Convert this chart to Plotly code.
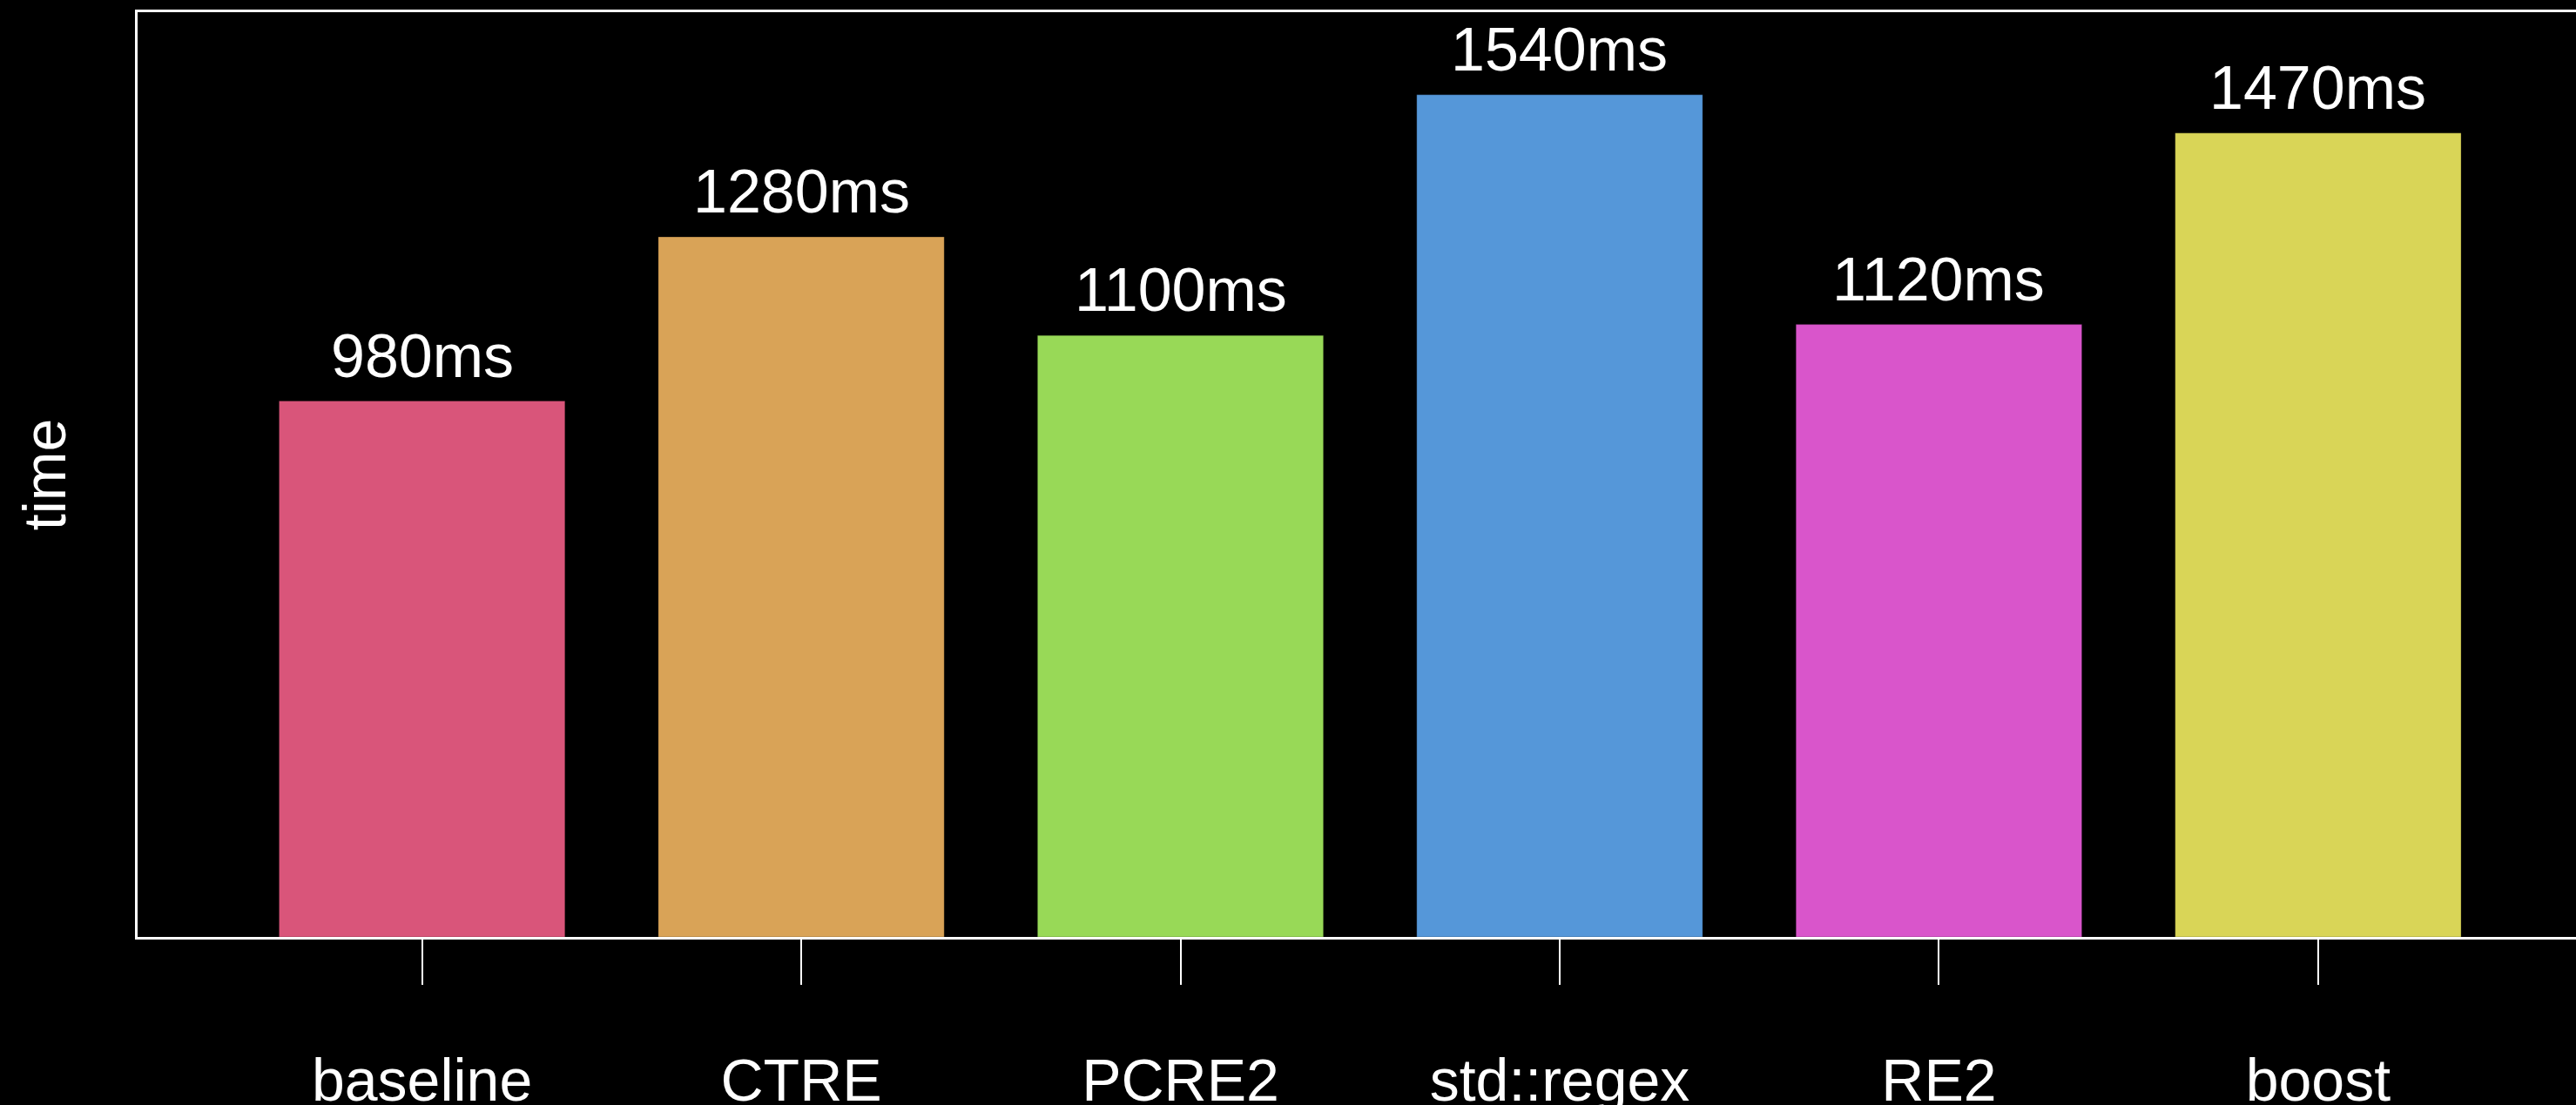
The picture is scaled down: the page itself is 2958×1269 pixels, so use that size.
import plotly.graph_objects as go

# Regex engine benchmark: total run time per engine (milliseconds)
engines = ["baseline", "CTRE", "PCRE2", "std::regex", "RE2", "boost"]
times_ms = [980, 1280, 1100, 1540, 1120, 1470]
bar_colors = ["#D9557A", "#D9A357", "#98D957", "#5597D9", "#D955CB", "#D9D557"]

FONT = "Liberation Sans, Arial, sans-serif"

fig = go.Figure(
    go.Bar(
        x=engines,
        y=times_ms,
        marker=dict(color=bar_colors, line=dict(width=1, color="rgba(0,0,0,0.25)")),
        hoverinfo="skip",
    )
)

# value labels above each bar
for name, t in zip(engines, times_ms):
    fig.add_annotation(
        x=name, y=t, text=f"{t}ms", showarrow=False,
        yanchor="bottom", yshift=11,
        font=dict(family=FONT, size=70, color="white"),
    )

fig.update_layout(
    width=2958, height=1269,
    margin=dict(l=158, r=0, t=14, b=193),
    paper_bgcolor="black", plot_bgcolor="black",
    bargap=0.246,
    showlegend=False,
    font=dict(family=FONT, size=68, color="white"),
)

fig.update_xaxes(
    range=[-0.75, 5.68], automargin=False,
    showline=True, linecolor="white", linewidth=3, mirror=True,
    ticks="outside", ticklen=52, tickwidth=2, tickcolor="white",
    ticklabelstandoff=51,
    tickfont=dict(family=FONT, size=68, color="white"),
    showgrid=False, zeroline=False,
)
fig.update_yaxes(
    range=[0, 1691], automargin=True,
    showline=True, linecolor="white", linewidth=3, mirror=False,
    showticklabels=False, ticks="", showgrid=False, zeroline=False,
    title=dict(text="time", font=dict(family=FONT, size=68, color="white"), standoff=58),
)

fig.write_html("out.html")
